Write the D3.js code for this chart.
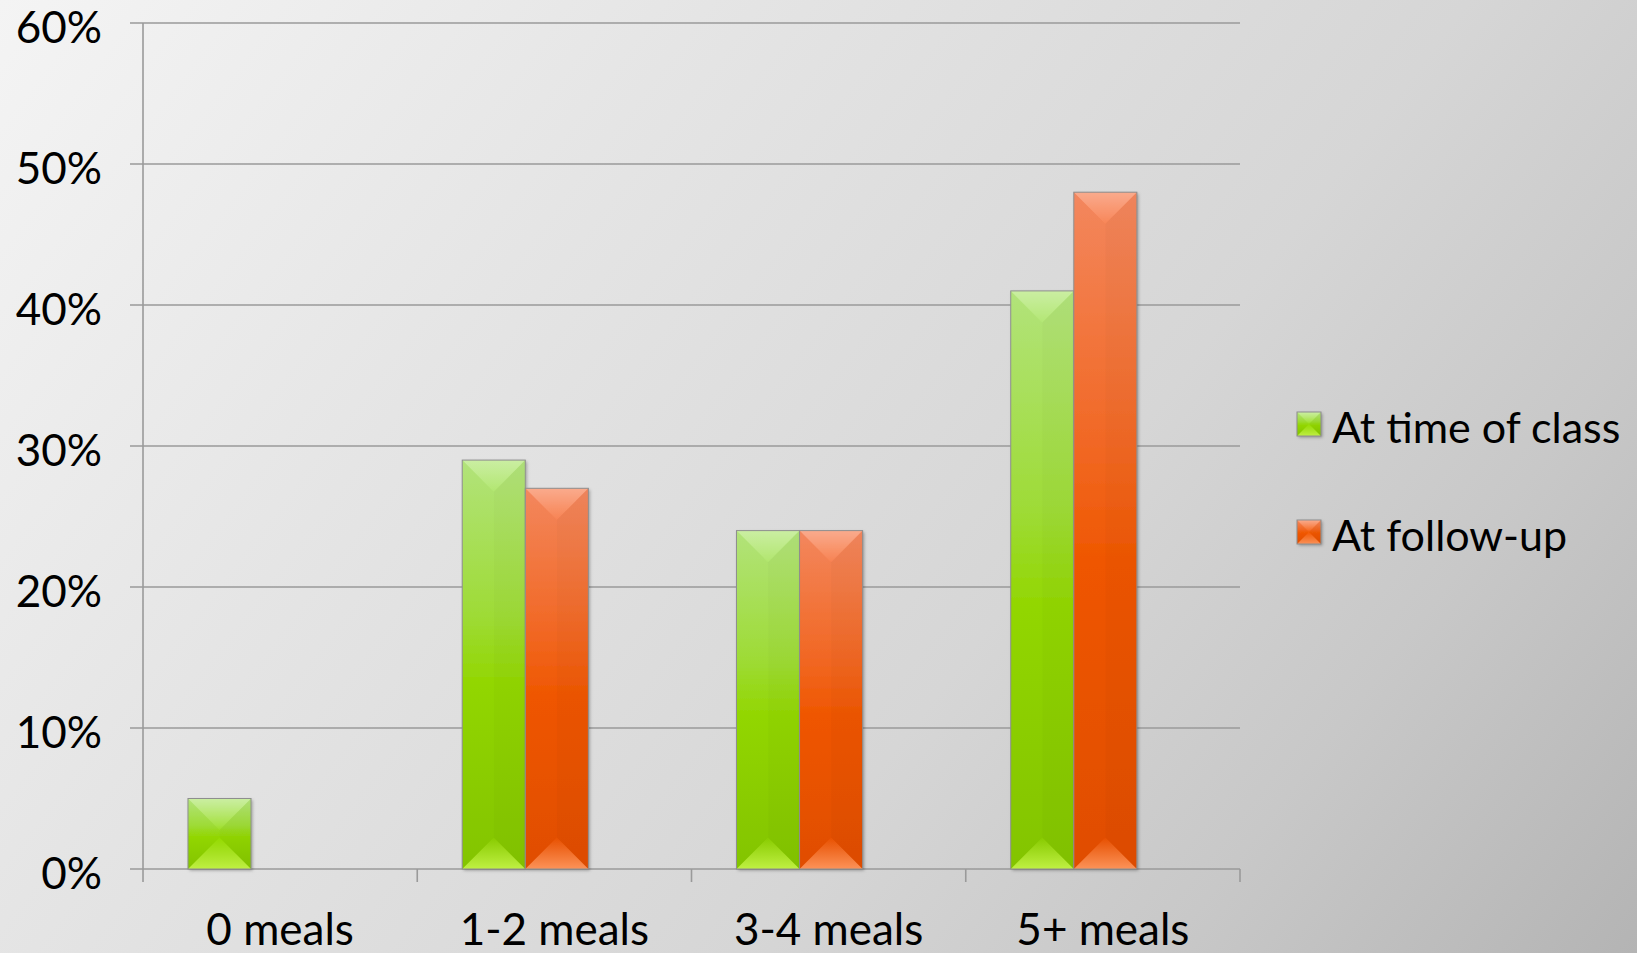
<!DOCTYPE html>
<html>
<head>
<meta charset="utf-8">
<script src="https://cdn.jsdelivr.net/npm/d3@7"></script>
<style>
  html, body { margin: 0; padding: 0; overflow: hidden; }
  svg { display: block; font-family: Lato, sans-serif; }
</style>
</head>
<body>
<div id="chart"></div>
<script>
const categories = ["0 meals", "1-2 meals", "3-4 meals", "5+ meals"];
const seriesNames = ["At time of class", "At follow-up"];
const classValues = [5, 29, 24, 41];
const followUpValues = [0, 27, 24, 48];
const yTickValues = [0, 10, 20, 30, 40, 50, 60];

const svgWidth = 1637, svgHeight = 953;
const margin = { top: 23, left: 143 };
const width = 1097, height = 846;

const svg = d3.select('#chart').append('svg')
  .attr('width', svgWidth)
  .attr('height', svgHeight);

const defs = svg.append('defs');

// page background
const bg = defs.append('linearGradient').attr('id', 'bg')
  .attr('gradientUnits', 'userSpaceOnUse')
  .attr('x1', 0).attr('y1', 0).attr('x2', 1490).attr('y2', 1145);
[[0, '#f4f4f4'], [0.3, '#e5e5e5'], [0.62, '#d6d6d6'], [0.8, '#c8c8c8'], [1, '#b4b4b4']]
  .forEach(s => bg.append('stop').attr('offset', s[0]).attr('stop-color', s[1]));

svg.append('rect').attr('width', svgWidth).attr('height', svgHeight).attr('fill', 'url(#bg)');

// bar colours
const palette = [
  { id: 'green', body: [[0, '#b6e87e'], [0.38, '#a2e038'], [0.55, '#95db00'], [1, '#86c800']], glow: '#c6f54a' },
  { id: 'orange', body: [[0, '#f88a60'], [0.38, '#f66a24'], [0.55, '#f45800'], [1, '#e54f00']], glow: '#ff9a62' }
];
palette.forEach(p => {
  const g = defs.append('linearGradient').attr('id', 'body-' + p.id)
    .attr('x1', 0).attr('y1', 0).attr('x2', 0).attr('y2', 1);
  p.body.forEach(s => g.append('stop').attr('offset', s[0]).attr('stop-color', s[1]));
  const b = defs.append('linearGradient').attr('id', 'glow-' + p.id)
    .attr('x1', 0).attr('y1', 1).attr('x2', 0).attr('y2', 0);
  b.append('stop').attr('offset', 0).attr('stop-color', p.glow).attr('stop-opacity', 0.9);
  b.append('stop').attr('offset', 1).attr('stop-color', p.glow).attr('stop-opacity', 0);
});
const topGlow = defs.append('linearGradient').attr('id', 'topglow')
  .attr('x1', 0).attr('y1', 0).attr('x2', 0).attr('y2', 1);
topGlow.append('stop').attr('offset', 0).attr('stop-color', '#fff').attr('stop-opacity', 0.28);
topGlow.append('stop').attr('offset', 1).attr('stop-color', '#fff').attr('stop-opacity', 0);

const shadow = defs.append('filter').attr('id', 'shadow')
  .attr('x', '-10%').attr('y', '-10%').attr('width', '130%').attr('height', '130%');
shadow.append('feDropShadow').attr('dx', 1.5).attr('dy', 1.5).attr('stdDeviation', 1.5)
  .attr('flood-color', '#000').attr('flood-opacity', 0.3);

// draws one bevelled block
const drawBlock = (sel, x, y, w, h, p) => {
  if (h <= 0) return;
  const d = Math.min(w / 2, h / 2);
  const blk = sel.append('g');
  blk.append('rect').attr('x', x).attr('y', y).attr('width', w).attr('height', h)
    .attr('fill', `url(#body-${p.id})`).attr('filter', 'url(#shadow)');
  blk.append('polygon')
    .attr('points', [[x, y], [x + w, y], [x + w - d, y + d], [x + d, y + d]].join(' '))
    .attr('fill', 'url(#topglow)');
  blk.append('polygon')
    .attr('points', [[x, y + h], [x + w, y + h], [x + w - d, y + h - d], [x + d, y + h - d]].join(' '))
    .attr('fill', `url(#glow-${p.id})`);
  blk.append('polygon')
    .attr('points', [[x, y], [x + d, y + d], [x + d, y + h - d], [x, y + h]].join(' '))
    .attr('fill', '#000').attr('opacity', 0.02);
  blk.append('polygon')
    .attr('points', [[x + w, y], [x + w - d, y + d], [x + w - d, y + h - d], [x + w, y + h]].join(' '))
    .attr('fill', '#000').attr('opacity', 0.04);
  blk.append('rect').attr('x', x).attr('y', y).attr('width', w).attr('height', h)
    .attr('fill', 'none').attr('stroke', '#8e8e8e').attr('stroke-width', 1);
};

const g = svg.append('g').attr('transform', `translate(${margin.left},${margin.top})`);

const y = d3.scaleLinear().domain([0, 60]).range([height, 0]);
const x0 = d3.scaleBand().domain(categories).range([0, width]);
const bw = x0.bandwidth();
const x1 = d3.scaleBand().domain(seriesNames).range([bw * 0.164, bw * 0.624]);

// gridlines + y labels
g.selectAll('.grid').data(yTickValues).enter().append('line')
  .attr('x1', -13).attr('x2', width)
  .attr('y1', d => y(d)).attr('y2', d => y(d))
  .attr('stroke', '#9a9a9a').attr('stroke-width', 1.6);

g.selectAll('.ylab').data(yTickValues).enter().append('text')
  .attr('x', -41).attr('y', d => y(d) + 20)
  .attr('text-anchor', 'end')
  .attr('font-size', 44).attr('fill', '#000')
  .text(d => d + '%');

// vertical axis + category ticks
g.append('line').attr('x1', 0).attr('x2', 0).attr('y1', 0).attr('y2', height + 13)
  .attr('stroke', '#9a9a9a').attr('stroke-width', 1.6);
g.selectAll('.xtick').data(categories.slice(1).map(c => x0(c)).concat([width])).enter().append('line')
  .attr('x1', d => d).attr('x2', d => d).attr('y1', height).attr('y2', height + 13)
  .attr('stroke', '#9a9a9a').attr('stroke-width', 1.6);

g.selectAll('.xlab').data(categories).enter().append('text')
  .attr('x', d => x0(d) + bw / 2).attr('y', height + 76)
  .attr('text-anchor', 'middle')
  .attr('font-size', 44).attr('fill', '#000')
  .text(d => d);

// bars
const seriesValues = [classValues, followUpValues];
seriesValues.forEach((vals, si) => {
  vals.forEach((v, ci) => {
    const bx = x0(categories[ci]) + x1(seriesNames[si]);
    drawBlock(g, bx, y(v), x1.bandwidth(), height - y(v), palette[si]);
  });
});

// legend
const legend = svg.append('g').attr('transform', 'translate(1297,412)');
seriesNames.forEach((name, i) => {
  const row = legend.append('g').attr('transform', `translate(0,${i * 108})`);
  drawBlock(row, 0, 0, 24, 24, palette[i]);
  row.append('text').attr('x', 35).attr('y', 31)
    .attr('font-size', 43).attr('fill', '#000')
    .text(name);
});
</script>
</body>
</html>
